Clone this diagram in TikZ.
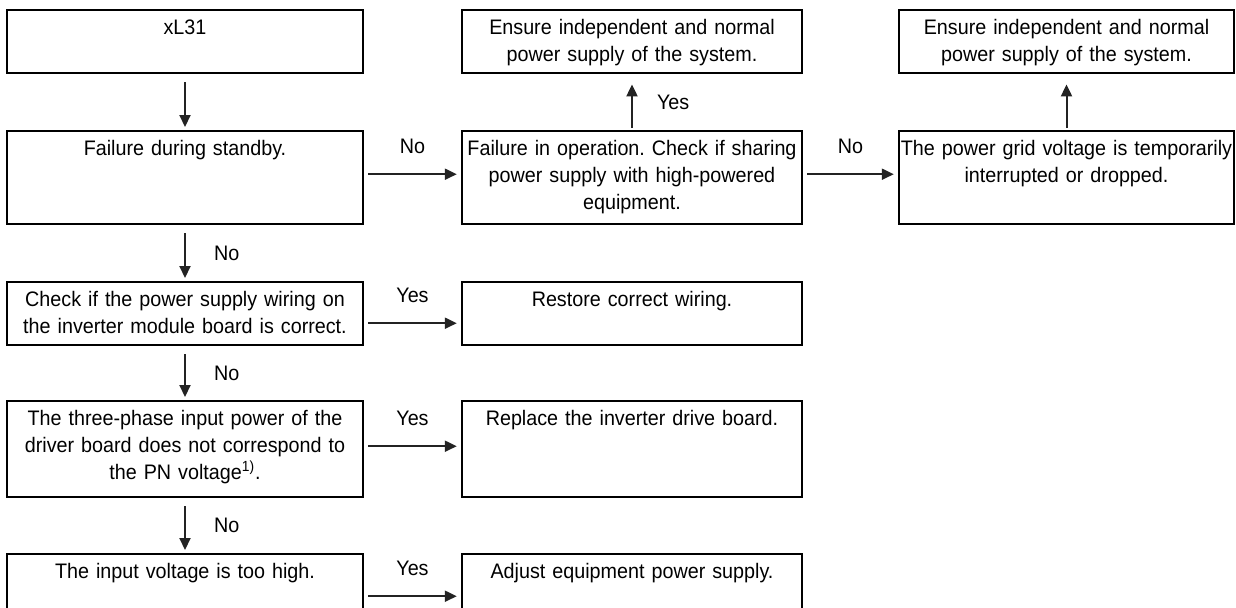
\documentclass[tikz,border=0pt]{standalone}
\usepackage{fontspec}
\setmainfont{Liberation Sans}[FakeStretch=0.94, WordSpace=0.8]
\frenchspacing
\usepackage{tikz}
\usetikzlibrary{arrows.meta, positioning}
\definecolor{mydark}{RGB}{35,35,35}
\tikzset{
  block/.style={rectangle, draw=black, line width=1.2pt, anchor=north,
    align=center, inner xsep=0.5pt, inner ysep=4.75pt, text height=7.5pt,
    font=\fontsize{10.5}{13.5}\selectfont},
  arrow/.style={-{Triangle[length=6pt, width=5.5pt]}, line width=1pt, color=mydark},
  lbl/.style={inner sep=0pt, text depth=0pt, text=black,
    font=\fontsize{10.5}{13.5}\selectfont}
}

\begin{document}
\begin{tikzpicture}[x=0.5pt, y=-0.5pt,
  col1/.style={block, text width=177pt},
  col2/.style={block, text width=169pt},
  col3/.style={block, text width=166.5pt},
  down/.style={arrow, shorten <=4pt, shorten >=1.5pt},
  up/.style={arrow, shorten <=1pt, shorten >=5pt},
  side/.style={arrow, shorten <=2pt, shorten >=2pt}]

  \clip (0,0) rectangle (1236,607);

  % Left column
  \node[col1, text depth=14.5pt] (xl) at (185,9) {xL31};
  \node[col1, text depth=29.5pt] (stby) at (185,130) {Failure during standby.};
  \node[col1, text depth=14.5pt] (chk) at (185,281)
    {Check if the power supply wiring on\\the inverter module board is correct.};
  \node[col1, text depth=31pt] (pn) at (185,400)
    {The three-phase input power of the\\driver board does not correspond to\\the PN voltage\textsuperscript{1)}.};
  \node[col1, text depth=25pt] (hv) at (185,553) {The input voltage is too high.};

  % Middle column
  \node[col2, text depth=14.5pt] (ens1) at (632,9)
    {Ensure independent and normal\\power supply of the system.};
  \node[col2, text depth=29.5pt] (oper) at (632,130)
    {Failure in operation. Check if sharing\\power supply with high-powered\\equipment.};
  \node[col2, text depth=14.5pt] (rst) at (632,281) {Restore correct wiring.};
  \node[col2, text depth=31pt] (repl) at (632,400) {Replace the inverter drive board.};
  \node[col2, text depth=25pt] (adj) at (632,553) {Adjust equipment power supply.};

  % Right column
  \node[col3, text depth=14.5pt] (ens2) at (1066.5,9)
    {Ensure independent and normal\\power supply of the system.};
  \node[col3, text depth=29.5pt] (grid) at (1066.5,130)
    {\mbox{The power grid voltage is temporarily}\\interrupted or dropped.};

  % Downward flow
  \draw[down] (xl) -- (stby);
  \draw[down] (stby) -- node[lbl, right=14pt] {No} (chk);
  \draw[down] (chk) -- node[lbl, right=14pt] {No} (pn);
  \draw[down] (pn) -- node[lbl, right=14pt] {No} (hv);

  % Upward flow
  \draw[up] (oper) -- node[lbl, right=12pt] {Yes} (ens1);
  \draw[up] (grid) -- (ens2);

  % Sideways flow
  \draw[side] ([yshift=1.75pt]stby.east) -- node[lbl, above=10pt] {No} ([yshift=1.75pt]oper.west);
  \draw[side] ([yshift=1.75pt]oper.east) -- node[lbl, above=10pt] {No} ([yshift=1.75pt]grid.west);
  \draw[side] ([yshift=-4.75pt]chk.east) -- node[lbl, above=10pt] {Yes} ([yshift=-4.75pt]rst.west);
  \draw[side] ([yshift=1.5pt]pn.east) -- node[lbl, above=10pt] {Yes} ([yshift=1.5pt]repl.west);
  \draw[side] (hv) -- node[lbl, above=10pt] {Yes} (adj);

\end{tikzpicture}
\end{document}
